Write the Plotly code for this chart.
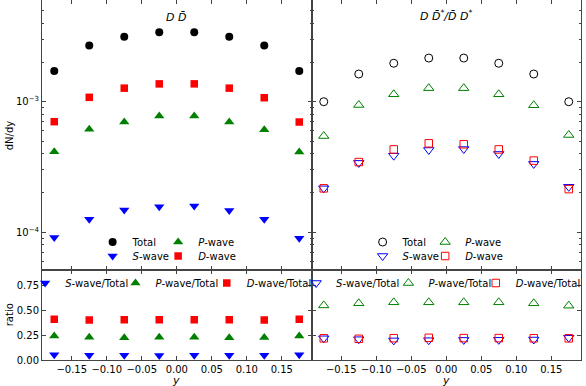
import plotly.graph_objects as go
from plotly.subplots import make_subplots

# rapidity bins
y_bins = [-0.175, -0.125, -0.075, -0.025, 0.025, 0.075, 0.125, 0.175]

# D Dbar yields
dd_total = [1.72e-3, 2.69e-3, 3.15e-3, 3.40e-3, 3.40e-3, 3.15e-3, 2.69e-3, 1.72e-3]
dd_swave = [9.1e-5, 1.26e-4, 1.48e-4, 1.57e-4, 1.59e-4, 1.47e-4, 1.26e-4, 9.0e-5]
dd_pwave = [4.14e-4, 6.15e-4, 7.0e-4, 7.77e-4, 7.77e-4, 7.0e-4, 6.1e-4, 4.12e-4]
dd_dwave = [7.03e-4, 1.08e-3, 1.27e-3, 1.37e-3, 1.37e-3, 1.27e-3, 1.07e-3, 7.0e-4]

# D Dbar* / Dbar D* yields
dds_total = [1.0e-3, 1.63e-3, 1.97e-3, 2.16e-3, 2.16e-3, 1.97e-3, 1.63e-3, 1.0e-3]
dds_swave = [2.17e-4, 3.40e-4, 3.86e-4, 4.27e-4, 4.34e-4, 3.98e-4, 3.34e-4, 2.23e-4]
dds_pwave = [5.46e-4, 9.44e-4, 1.14e-3, 1.27e-3, 1.27e-3, 1.14e-3, 9.4e-4, 5.56e-4]
dds_dwave = [2.17e-4, 3.45e-4, 4.31e-4, 4.80e-4, 4.72e-4, 4.31e-4, 3.54e-4, 2.14e-4]

# ratios to total
dd_s_ratio = [0.053, 0.047, 0.047, 0.046, 0.047, 0.047, 0.047, 0.052]
dd_p_ratio = [0.240, 0.228, 0.222, 0.228, 0.228, 0.222, 0.226, 0.240]
dd_d_ratio = [0.408, 0.401, 0.402, 0.402, 0.402, 0.402, 0.400, 0.407]
dds_s_ratio = [0.217, 0.208, 0.196, 0.198, 0.201, 0.202, 0.205, 0.223]
dds_p_ratio = [0.546, 0.567, 0.577, 0.577, 0.577, 0.577, 0.567, 0.543]
dds_d_ratio = [0.217, 0.212, 0.218, 0.222, 0.219, 0.219, 0.217, 0.217]

x_ticks = [-0.15, -0.10, -0.05, 0.0, 0.05, 0.10, 0.15]
x_ticktext = ["\u22120.15", "\u22120.10", "\u22120.05", "0.00", "0.05", "0.10", "0.15"]

W, H = 586, 386
ML, MR, MT, MB = 42, 1, 0, 26
PW, PH = W - ML - MR, H - MT - MB

BLACK, RED, GREEN, BLUE = "#000000", "#ff0000", "#008000", "#0000ff"
FONT = "DejaVu Sans"

fig = make_subplots(rows=2, cols=2, shared_xaxes=True, shared_yaxes=True,
                    horizontal_spacing=0, vertical_spacing=0,
                    row_heights=[0.75, 0.25])


def px_x(px):
    return (px - ML) / PW


def px_y(py):
    return 1 - (py - MT) / PH


leg_font = dict(family=FONT, size=10, color="black")
legends = {}


def add_pts(row, col, yv, name, symbol, color, size, leg_pos, is_open=False):
    # one legend box per entry; leg_pos is the pixel centre of its key symbol
    key = "legend" if not legends else "legend%d" % (len(legends) + 1)
    mx, my = leg_pos
    legends[key] = dict(x=px_x(mx - 20), y=px_y(my), xanchor="left", yanchor="middle",
                        bgcolor="rgba(0,0,0,0)", borderwidth=0, font=leg_font,
                        itemwidth=30)
    marker = dict(symbol=symbol + ("-open" if is_open else ""), color=color, size=size)
    marker["line"] = dict(width=1 if is_open else 0, color=color)
    fig.add_trace(go.Scatter(x=y_bins, y=yv, mode="markers", name=name, marker=marker,
                             legend=key, showlegend=True), row=row, col=col)


# top-left: filled
add_pts(1, 1, dd_total, "Total", "circle", BLACK, 8, (113, 242))
add_pts(1, 1, dd_pwave, "<i>P</i>-wave", "triangle-up", GREEN, 9, (179, 242))
add_pts(1, 1, dd_swave, "<i>S</i>-wave", "triangle-down", BLUE, 9, (113, 256))
add_pts(1, 1, dd_dwave, "<i>D</i>-wave", "square", RED, 7.5, (179, 256))

# top-right: open
add_pts(1, 2, dds_total, "Total", "circle", BLACK, 8, (385, 242), True)
add_pts(1, 2, dds_pwave, "<i>P</i>-wave", "triangle-up", GREEN, 9, (448, 242), True)
add_pts(1, 2, dds_swave, "<i>S</i>-wave", "triangle-down", BLUE, 9, (385, 256), True)
add_pts(1, 2, dds_dwave, "<i>D</i>-wave", "square", RED, 7.5, (448, 256), True)

# ratios
add_pts(2, 1, dd_s_ratio, "<i>S</i>-wave/Total", "triangle-down", BLUE, 9, (45, 283))
add_pts(2, 1, dd_p_ratio, "<i>P</i>-wave/Total", "triangle-up", GREEN, 9, (136, 283))
add_pts(2, 1, dd_d_ratio, "<i>D</i>-wave/Total", "square", RED, 7.5, (228, 283))
add_pts(2, 2, dds_s_ratio, "<i>S</i>-wave/Total", "triangle-down", BLUE, 9, (318, 283), True)
add_pts(2, 2, dds_p_ratio, "<i>P</i>-wave/Total", "triangle-up", GREEN, 9, (411, 283), True)
add_pts(2, 2, dds_d_ratio, "<i>D</i>-wave/Total", "square", RED, 7.5, (499, 283), True)

axis_common = dict(showline=True, linecolor="#444444", linewidth=1, mirror="allticks",
                   ticks="inside", ticklen=4, tickcolor="#444444", showgrid=False,
                   zeroline=False, automargin=False,
                   tickfont=dict(family=FONT, size=10, color="black"))

fig.update_xaxes(range=[-0.1925, 0.1925], tickvals=x_ticks, ticktext=x_ticktext,
                 **axis_common)
fig.update_xaxes(showticklabels=False, row=1)
fig.update_xaxes(showticklabels=True, row=2)

minor_vals = [k * 10 ** e for e in (-5, -4, -3) for k in range(2, 10)]
fig.update_yaxes(type="log", range=[-4.289, -2.221], tickvals=[1e-4, 1e-3],
                 ticktext=["10<sup>\u22124</sup>", "10<sup>\u22123</sup>"],
                 minor=dict(ticks="inside", ticklen=2, tickcolor="#444444", tickvals=minor_vals),
                 row=1, **axis_common)
fig.update_yaxes(range=[0, 0.9], tickvals=[0, 0.25, 0.5, 0.75], tickformat=".2f",
                 row=2, **axis_common)
fig.update_yaxes(showticklabels=False, col=2)

fig.update_layout(**legends)


def label(text, px, py, size=10, angle=0, yanchor="middle"):
    fig.add_annotation(text=text, x=px_x(px), y=px_y(py), xref="paper", yref="paper",
                       xanchor="center", yanchor=yanchor, textangle=angle, borderpad=0,
                       showarrow=False, font=dict(family=FONT, size=size, color="black"))


label("<i>D D\u0304</i>", 177, 17, size=11)
label("<i>D D\u0304<sup>*</sup>/D\u0304 D<sup>*</sup></i>", 449, 16, size=11)
label("<i>y</i>", 177, 373, size=11, yanchor="top")
label("<i>y</i>", 449, 373, size=11, yanchor="top")
label("dN/dy", 9, 135, angle=-90)
label("ratio", 9, 315, angle=-90)

fig.update_layout(width=W, height=H, margin=dict(l=ML, r=MR, t=MT, b=MB),
                  plot_bgcolor="white", paper_bgcolor="white",
                  font=dict(family=FONT, size=10, color="black"))

# the page's default body margin would shift the whole figure by 8px
fig.write_html("out.html", config={"displayModeBar": False},
               post_script="document.body.style.margin='0px';")
